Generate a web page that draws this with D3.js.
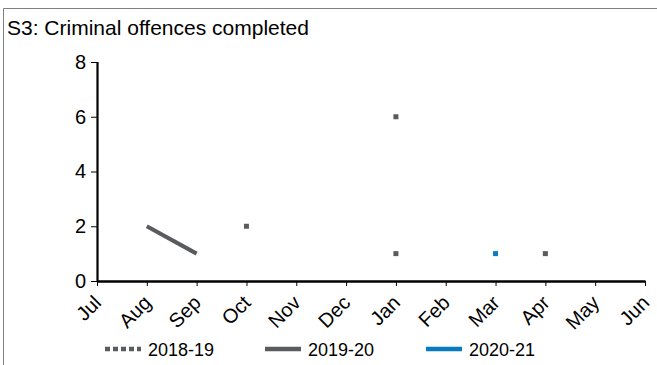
<!DOCTYPE html>
<html lang='en'>
<head>
<meta charset='UTF-8'>
<title>S3: Criminal offences completed</title>
<style>
    body { margin: 0; background: #fff; }
    text { font-family: 'Liberation Sans', Arial, sans-serif; fill: #000; }
</style>
</head>
<body>
<div id="chart-area"></div>
<script src='https://d3js.org/d3.v7.min.js'></script>
<script>
    const months = ['Jul', 'Aug', 'Sep', 'Oct', 'Nov', 'Dec', 'Jan', 'Feb', 'Mar', 'Apr', 'May', 'Jun'];
    const yTicks = [0, 2, 4, 6, 8];
    const seriesNames = ['2018-19', '2019-20', '2020-21'];
    // null = no value that month
    const values1819 = [null, null, null, 2, null, null, 6, null, null, 1, null, null];
    const values1920 = [null, 2, 1, null, null, null, 1, null, null, null, null, null];
    const values2021 = [null, null, null, null, null, null, null, null, 1, null, null, null];

    const colors = ['#5a5b5e', '#5a5b5e', '#0a7bc1'];
    const dashes = ['5,3', null, null];
    const allValues = [values1819, values1920, values2021];

    const W = 657, H = 365;
    const margin = {top: 62, right: 12, bottom: 84, left: 97};

    const svg = d3.select('#chart-area').append('svg')
        .attr('width', W)
        .attr('height', H);

    // outer frame (only top and left visible in the crop)
    svg.append('path')
        .attr('d', `M3.5,${H} V8.5 H${W}`)
        .attr('fill', 'none')
        .attr('stroke', '#808080')
        .attr('stroke-width', 1);

    svg.append('text')
        .attr('x', 7)
        .attr('y', 35)
        .attr('font-size', 21)
        .text('S3: Criminal offences completed');

    const x = d3.scalePoint().domain(months).range([margin.left, 645]);
    const y = d3.scaleLinear().domain([0, 8]).range([281, margin.top]);

    const gy = svg.append('g')
        .attr('transform', `translate(${margin.left},0)`)
        .call(d3.axisLeft(y).tickValues(yTicks).tickSize(6).tickPadding(5).tickFormat(d3.format('d')));
    gy.select('.domain').attr('stroke-width', 2.2).attr('d', `M0.5,${y(0)}V${y(8)}`);
    gy.selectAll('.tick line').attr('stroke-width', 1);
    gy.selectAll('.tick text').attr('font-size', 20).attr('font-family', null);

    const gx = svg.append('g')
        .attr('transform', `translate(0,${y(0)})`)
        .call(d3.axisBottom(x).tickSize(5).tickSizeOuter(0));
    gx.select('.domain').attr('stroke-width', 2.4);
    gx.selectAll('.tick text')
        .attr('font-size', 20)
        .attr('font-family', null)
        .attr('text-anchor', 'end')
        .attr('x', 0)
        .attr('y', 0)
        .attr('dy', 0)
        .attr('transform', 'translate(5,23) rotate(-45)');

    const line = d3.line()
        .defined(d => d.v !== null)
        .x(d => x(d.m))
        .y(d => y(d.v));

    allValues.forEach((vals, i) => {
        const data = vals.map((v, j) => ({m: months[j], v: v}));
        svg.append('path')
            .datum(data)
            .attr('fill', 'none')
            .attr('stroke', colors[i])
            .attr('stroke-width', 4)
            .attr('stroke-dasharray', dashes[i])
            .attr('d', line);
        // isolated points show up as small squares
        const isolated = data.filter((d, j) => d.v !== null &&
            (j === 0 || vals[j - 1] === null) && (j === vals.length - 1 || vals[j + 1] === null));
        svg.append('g').selectAll('rect')
            .data(isolated)
            .join('rect')
            .attr('x', d => x(d.m) - 2.5)
            .attr('y', d => y(d.v) - 2.5)
            .attr('width', 5)
            .attr('height', 5)
            .attr('fill', colors[i]);
    });

    // legend
    const legendX = [105, 265, 426];
    const legend = svg.append('g');
    seriesNames.forEach((name, i) => {
        legend.append('line')
            .attr('x1', legendX[i]).attr('x2', legendX[i] + 36)
            .attr('y1', 349).attr('y2', 349)
            .attr('stroke', colors[i])
            .attr('stroke-width', 4.5)
            .attr('stroke-dasharray', dashes[i]);
        legend.append('text')
            .attr('x', legendX[i] + 43)
            .attr('y', 356)
            .attr('font-size', 18)
            .text(name);
    });
</script>
</body>
</html>
